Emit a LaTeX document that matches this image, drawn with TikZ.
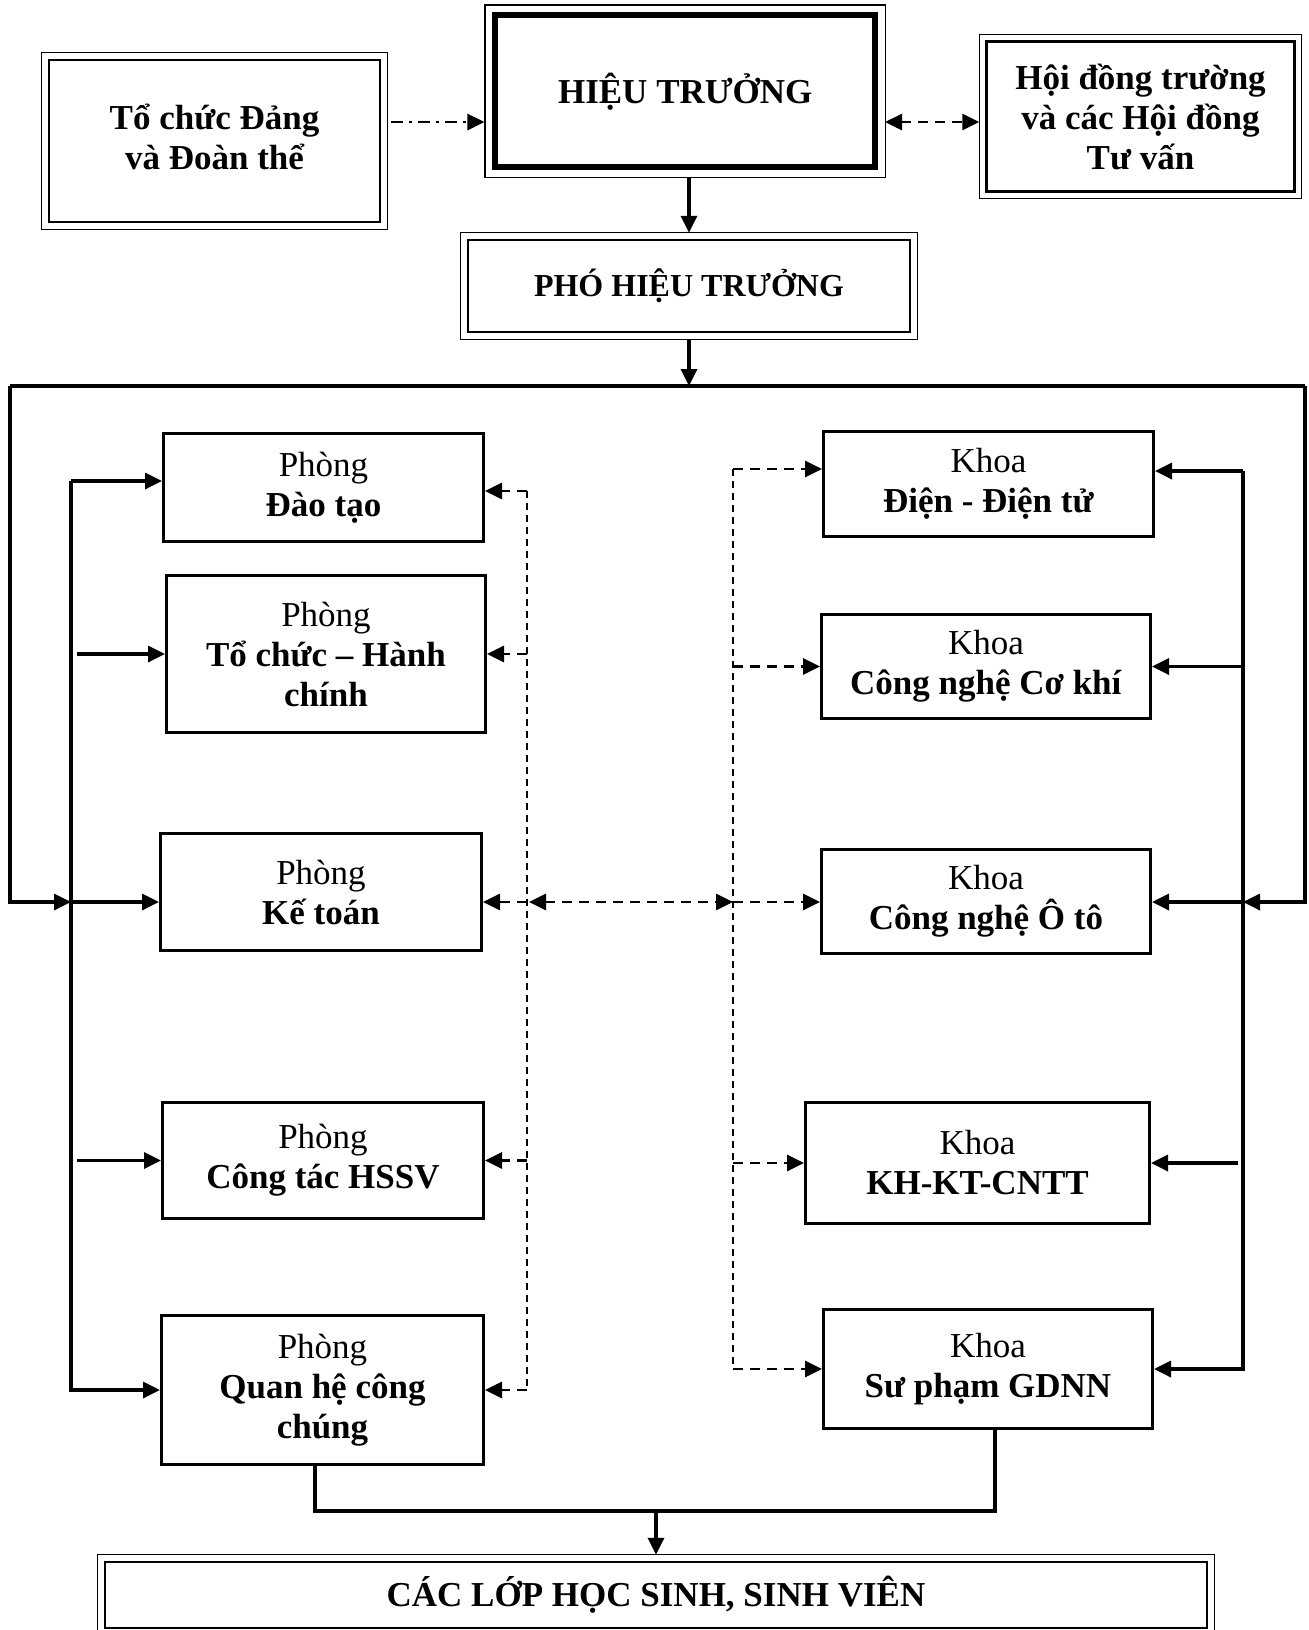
\documentclass[tikz,border=0pt]{standalone}
\usepackage{fontspec}
\setmainfont{Liberation Serif}
\usetikzlibrary{arrows.meta,calc,positioning}

\begin{document}
\begin{tikzpicture}[x=0.5pt, y=-0.5pt,
  box/.style={draw, line width=1.5pt, align=center, inner sep=0pt, font=\fontsize{17.5}{20}\selectfont},
  framebox/.style={draw, line width=1.25pt, align=center, inner sep=0pt, font=\fontsize{17.5}{20}\selectfont\bfseries},
  frameline/.style={line width=0.65pt},
  tip/.style={-{Triangle[length=8.5pt,width=8pt]}},
  arr/.style={line width=1.7pt, tip},
  darr/.style={line width=1.4pt, dash pattern=on 5pt off 3.5pt, tip},
  dline/.style={line width=1pt, dash pattern=on 3.5pt off 2.5pt}]

  \useasboundingbox (0,0) rectangle (1309,1630);

  % top row
  \node[framebox, minimum width=165.5pt, minimum height=81pt] (dang) at (214.5,141) {Tổ chức Đảng\\và Đoàn thể\vphantom{g}};
  \node[framebox, line width=2.8pt, minimum width=190pt, minimum height=76pt] (ht) at (685.25,91.25) {HIỆU TRƯỞNG};
  \node[framebox, minimum width=154pt, minimum height=75pt] (hoidong) at (1140.5,116.5) {Hội đồng trường\\và các Hội đồng\\Tư vấn};
  \node[framebox, minimum width=221pt, minimum height=46pt, font=\fontsize{16}{19}\selectfont\bfseries] (pht) at (689,286) {PHÓ HIỆU TRƯỞNG};

  % phong
  \node[box, minimum width=160pt, minimum height=54pt] (daotao) at (323.5,487.5) {Phòng\\\textbf{Đào tạo}};
  \node[box, minimum width=159.5pt, minimum height=78.5pt] (tchc) at (326,654) {Phòng\\\textbf{Tổ chức – Hành}\\\textbf{chính}};
  \node[box, minimum width=160.5pt, minimum height=58.5pt] (ketoan) at (321,892) {Phòng\\\textbf{Kế toán}};
  \node[box, minimum width=160.5pt, minimum height=58pt] (hssv) at (323,1160.5) {Phòng\\\textbf{Công tác HSSV}};
  \node[box, minimum width=161pt, minimum height=74.5pt] (qhcc) at (322.5,1390) {Phòng\\\textbf{Quan hệ công}\\\textbf{chúng}};

  % khoa
  \node[box, minimum width=165pt, minimum height=52.5pt] (dien) at (988.5,484) {Khoa\\\textbf{Điện - Điện tử}};
  \node[box, minimum width=164.5pt, minimum height=52pt] (cokhi) at (986,666.5) {Khoa\\\textbf{Công nghệ Cơ khí}};
  \node[box, minimum width=164.5pt, minimum height=52pt] (oto) at (986,901.5) {Khoa\\\textbf{Công nghệ Ô tô}};
  \node[box, minimum width=172pt, minimum height=60.5pt] (cntt) at (977.5,1163) {Khoa\\\textbf{KH-KT-CNTT}};
  \node[box, minimum width=164.5pt, minimum height=59.5pt] (supham) at (988,1369) {Khoa\\\textbf{Sư phạm GDNN}};

  \node[framebox, minimum width=551pt, minimum height=33pt] (lop) at (656,1595) {CÁC LỚP HỌC SINH, SINH VIÊN};

  % outer frames of the double boxes
  \foreach \n/\g in {dang/6, ht/7.5, hoidong/5.5, pht/6, lop/6}
    \draw[frameline] ([shift={(-\g,-\g)}]\n.north west) rectangle ([shift={(\g,\g)}]\n.south east);

  \coordinate (topL) at (10,386);
  \coordinate (topR) at (1305,386);
  \coordinate (busL) at (71,481);
  \coordinate (busR) at (1243,471);
  \coordinate (dL) at (527,491);
  \coordinate (dR) at (733,469);
  \coordinate (hx) at (0,122);
  \coordinate (my) at (0,902);
  \coordinate (boty) at (0,1511);

  % top links
  \draw[line width=1.4pt, dash pattern=on 6pt off 3pt on 1.5pt off 3pt, tip]
    ([xshift=5pt]dang.east |- hx) -- ([xshift=-4pt]ht.west |- hx);
  \draw[darr, {Triangle[length=8.5pt,width=8pt]}-{Triangle[length=8.5pt,width=8pt]}]
    ([xshift=3.5pt]ht.east |- hx) -- ([xshift=-3pt]hoidong.west |- hx);
  \draw[arr] ([yshift=-4pt]pht.north |- ht.south) -- ([yshift=3pt]pht.north);
  \draw[arr] ([yshift=-3pt]pht.south) -- (pht.south |- topL);

  % solid buses
  \draw[line width=1.7pt] (topL) -- (topR);
  \draw[arr] (topL) -- (topL |- my) -- (busL |- my);
  \draw[arr] (topR) -- (topR |- my) -- (busR |- my);

  \draw[arr] (busL) -- (daotao.west |- busL);
  \draw[arr] (busL) |- (qhcc.west);
  \draw[arr] ([xshift=3pt]busL |- tchc.west) -- (tchc.west);
  \draw[arr] (busL |- my) -- (ketoan.west |- my);
  \draw[arr] ([xshift=3pt]busL |- hssv.west) -- (hssv.west);

  \draw[arr] (busR) -- (dien.east |- busR);
  \draw[arr] (busR) |- (supham.east);
  \draw[arr] (busR |- cokhi.east) -- (cokhi.east);
  \draw[arr] (busR |- my) -- (oto.east |- my);
  \draw[arr] ([xshift=-2.5pt]busR |- cntt.east) -- (cntt.east);

  % dashed links
  \draw[dline] (dL) -- (dL |- qhcc.east);
  \draw[darr] (dL) -- (daotao.east |- dL);
  \draw[darr] (dL |- tchc.east) -- (tchc.east);
  \draw[darr] (dL |- my) -- (ketoan.east |- my);
  \draw[darr] (dL |- hssv.east) -- (hssv.east);
  \draw[darr] (dL |- qhcc.east) -- (qhcc.east);

  \draw[dline] (dR) -- (dR |- supham.west);
  \draw[darr] (dR) -- (dien.west |- dR);
  \draw[darr] (dR |- cokhi.west) -- (cokhi.west);
  \draw[darr] (dR |- my) -- (oto.west |- my);
  \draw[darr] (dR |- cntt.west) -- (cntt.west);
  \draw[darr] (dR |- supham.west) -- (supham.west);

  \draw[darr, {Triangle[length=8.5pt,width=8pt]}-{Triangle[length=8.5pt,width=8pt]}]
    ([xshift=1pt]dL |- my) -- (dR |- my);

  % to the classes
  \draw[line width=1.7pt] ([xshift=-3.75pt]qhcc.south) -- ([xshift=-3.75pt]qhcc.south |- boty)
    -- ([xshift=3.5pt]supham.south |- boty) -- ([xshift=3.5pt]supham.south);
  \draw[arr] (lop.north |- boty) -- ([yshift=3pt]lop.north);

\end{tikzpicture}
\end{document}
